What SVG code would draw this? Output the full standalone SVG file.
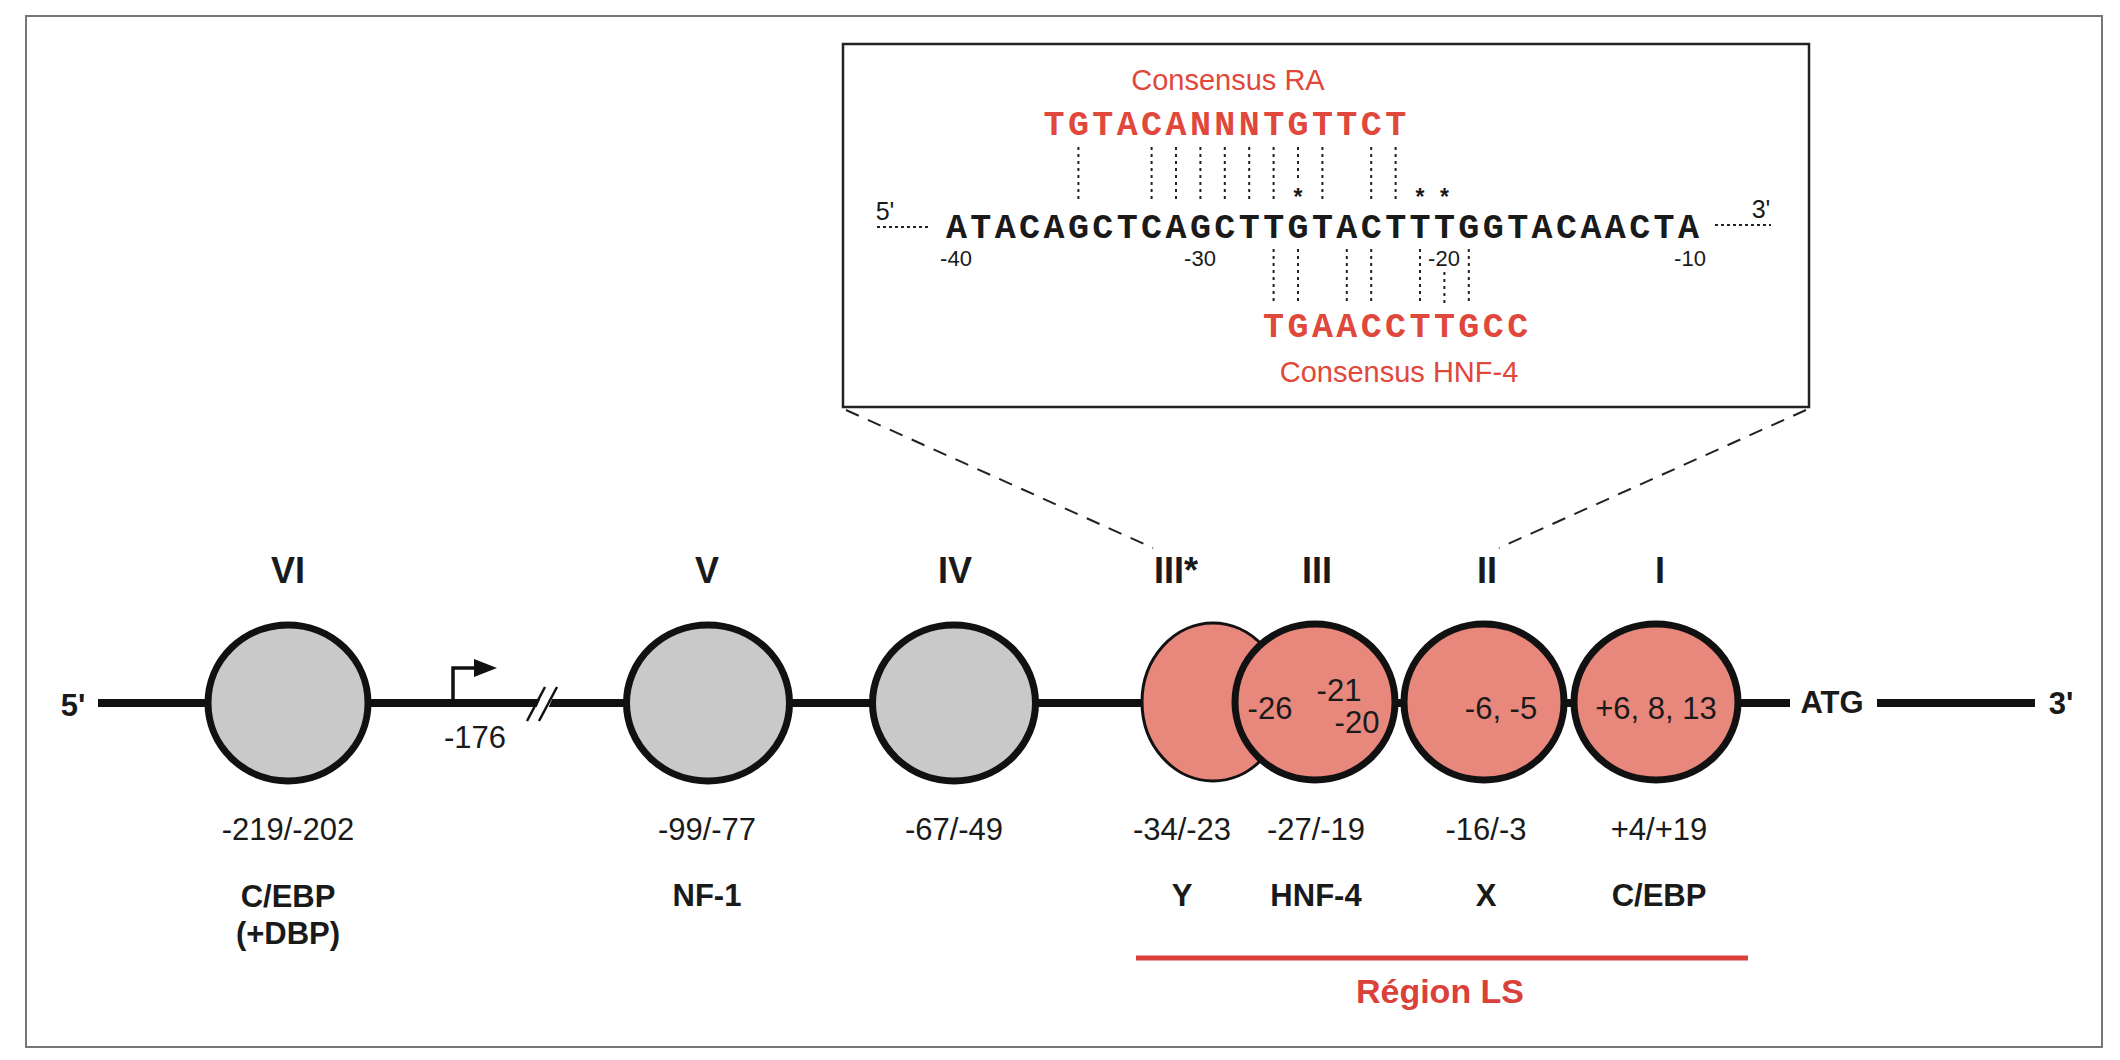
<svg xmlns="http://www.w3.org/2000/svg" width="2120" height="1060" viewBox="0 0 2120 1060">
<style>
.sans{font-family:"Liberation Sans",Arial,sans-serif}
.lbl{font-family:"Liberation Sans",Arial,sans-serif;font-size:31px;fill:#1a1a1a;text-anchor:middle}
.bold{font-weight:bold}
.rom{font-family:"Liberation Sans",Arial,sans-serif;font-size:36px;font-weight:bold;fill:#1a1a1a;text-anchor:middle}
.mono{font-family:"Liberation Mono","Courier New",monospace;font-size:35px;font-weight:bold;letter-spacing:3.4px}
.red{fill:#e0483c}
.dot{stroke:#222;stroke-width:2;stroke-dasharray:3 4;fill:none}
.hdot{stroke:#222;stroke-width:2;stroke-dasharray:3 3;fill:none}
.grey{fill:#c9c9c9;stroke:#111;stroke-width:7}
.pink{fill:#e8877c;stroke:#111;stroke-width:7}
</style>
<rect width="2120" height="1060" fill="#ffffff"/>
<rect x="26" y="16" width="2076" height="1031" fill="none" stroke="#777" stroke-width="2"/>

<!-- inset box -->
<g id="inset">
<rect x="843" y="44" width="966" height="363" fill="#fff" stroke="#222" stroke-width="2.5"/>
<text class="sans red" x="1228" y="90" font-size="29" text-anchor="middle">Consensus RA</text>
<text class="mono red" x="1043.5" y="135">TGTACANNNTGTTCT</text>
<text class="mono" x="945.9" y="238" fill="#1a1a1a">ATACAGCTCAGCTTGTACTTTGGTACAACTA</text>
<text class="mono red" x="1263.1" y="337">TGAACCTTGCC</text>
<text class="sans red" x="1399" y="382" font-size="29" text-anchor="middle">Consensus HNF-4</text>
<text class="sans" x="885" y="220" font-size="25" text-anchor="middle" fill="#1a1a1a">5'</text>
<text class="sans" x="1761" y="218" font-size="25" text-anchor="middle" fill="#1a1a1a">3'</text>
<line class="hdot" x1="877" y1="227" x2="931" y2="227"/>
<line class="hdot" x1="1715" y1="225" x2="1771" y2="225"/>
<g class="sans" font-size="22" text-anchor="middle" fill="#1a1a1a">
<text x="956" y="266">-40</text>
<text x="1200" y="266">-30</text>
<text x="1444" y="266">-20</text>
<text x="1690" y="266">-10</text>
</g>
<g class="sans" font-size="23" font-weight="bold" text-anchor="middle" fill="#1a1a1a">
<text x="1298" y="205">*</text>
<text x="1420" y="205">*</text>
<text x="1444.4" y="205">*</text>
</g>
<g id="ra-links">
<line class="dot" x1="1078.4" y1="147" x2="1078.4" y2="203"/>
<line class="dot" x1="1151.6" y1="147" x2="1151.6" y2="203"/>
<line class="dot" x1="1176" y1="147" x2="1176" y2="203"/>
<line class="dot" x1="1200.4" y1="147" x2="1200.4" y2="203"/>
<line class="dot" x1="1224.8" y1="147" x2="1224.8" y2="203"/>
<line class="dot" x1="1249.2" y1="147" x2="1249.2" y2="203"/>
<line class="dot" x1="1273.6" y1="147" x2="1273.6" y2="203"/>
<line class="dot" x1="1298" y1="147" x2="1298" y2="180"/>
<line class="dot" x1="1322.4" y1="147" x2="1322.4" y2="203"/>
<line class="dot" x1="1371.2" y1="147" x2="1371.2" y2="203"/>
<line class="dot" x1="1395.6" y1="147" x2="1395.6" y2="203"/>
</g>
<g id="hnf-links">
<line class="dot" x1="1273.6" y1="249" x2="1273.6" y2="303"/>
<line class="dot" x1="1298" y1="249" x2="1298" y2="303"/>
<line class="dot" x1="1346.8" y1="249" x2="1346.8" y2="303"/>
<line class="dot" x1="1371.2" y1="249" x2="1371.2" y2="303"/>
<line class="dot" x1="1420" y1="249" x2="1420" y2="303"/>
<line class="dot" x1="1444.4" y1="272" x2="1444.4" y2="303"/>
<line class="dot" x1="1468.8" y1="249" x2="1468.8" y2="303"/>
</g>
</g>

<!-- connectors -->
<g id="connectors">
<line x1="846" y1="410" x2="1153" y2="548" stroke="#222" stroke-width="2" stroke-dasharray="14 10"/>
<line x1="1806" y1="410" x2="1499" y2="548" stroke="#222" stroke-width="2" stroke-dasharray="14 10"/>
<line x1="98" y1="703" x2="1790" y2="703" stroke="#111" stroke-width="8"/>
<line x1="1877" y1="703" x2="2035" y2="703" stroke="#111" stroke-width="8"/>
<polygon points="531,720 545,688 557,688 543,720" fill="#fff"/>
<line x1="527" y1="721" x2="545" y2="687" stroke="#111" stroke-width="2.5"/>
<line x1="539" y1="721" x2="557" y2="687" stroke="#111" stroke-width="2.5"/>
<polyline points="453,703 453,668 476,668" fill="none" stroke="#111" stroke-width="3.5"/>
<polygon points="474,659 497,668 474,677" fill="#111"/>
<line x1="1136" y1="958" x2="1748" y2="958" stroke="#d9413a" stroke-width="5"/>
</g>

<text class="sans bold" x="73" y="716" font-size="31" text-anchor="middle" fill="#1a1a1a">5'</text>
<text class="sans bold" x="1832" y="713" font-size="31" text-anchor="middle" fill="#1a1a1a">ATG</text>
<text class="sans bold" x="2061" y="714" font-size="31" text-anchor="middle" fill="#1a1a1a">3'</text>
<text class="lbl" x="475" y="748">-176</text>

<g id="site-VI">
<ellipse class="grey" cx="288" cy="703" rx="80" ry="78"/>
<text class="rom" x="288" y="583">VI</text>
<text class="lbl" x="288" y="840">-219/-202</text>
<text class="lbl bold" x="288" y="907">C/EBP</text>
<text class="lbl bold" x="288" y="944">(+DBP)</text>
</g>
<g id="site-V">
<ellipse class="grey" cx="708" cy="703" rx="81.5" ry="78"/>
<text class="rom" x="707" y="583">V</text>
<text class="lbl" x="707" y="840">-99/-77</text>
<text class="lbl bold" x="707" y="906">NF-1</text>
</g>
<g id="site-IV">
<ellipse class="grey" cx="954" cy="703" rx="81.5" ry="78"/>
<text class="rom" x="955" y="583">IV</text>
<text class="lbl" x="954" y="840">-67/-49</text>
</g>
<g id="site-IIIstar">
<ellipse cx="1213" cy="702" rx="71" ry="79" fill="#e8877c" stroke="#111" stroke-width="3"/>
<text class="rom" x="1176" y="583">III*</text>
<text class="lbl" x="1182" y="840">-34/-23</text>
<text class="lbl bold" x="1182" y="906">Y</text>
</g>
<g id="site-III">
<ellipse class="pink" cx="1315" cy="702" rx="80" ry="78"/>
<text class="lbl" x="1270" y="719">-26</text>
<text class="lbl" x="1339" y="701">-21</text>
<text class="lbl" x="1357" y="733">-20</text>
<text class="rom" x="1317" y="583">III</text>
<text class="lbl" x="1316" y="840">-27/-19</text>
<text class="lbl bold" x="1316" y="906">HNF-4</text>
</g>
<g id="site-II">
<ellipse class="pink" cx="1484" cy="702" rx="80" ry="78"/>
<text class="lbl" x="1501" y="719">-6, -5</text>
<text class="rom" x="1487" y="583">II</text>
<text class="lbl" x="1486" y="840">-16/-3</text>
<text class="lbl bold" x="1486" y="906">X</text>
</g>
<g id="site-I">
<ellipse class="pink" cx="1656" cy="702" rx="82" ry="78"/>
<text class="lbl" x="1656" y="719">+6, 8, 13</text>
<text class="rom" x="1660" y="583">I</text>
<text class="lbl" x="1659" y="840">+4/+19</text>
<text class="lbl bold" x="1659" y="906">C/EBP</text>
</g>
<text class="sans bold" x="1440" y="1003" font-size="34" text-anchor="middle" fill="#d9413a">Région LS</text>
</svg>
